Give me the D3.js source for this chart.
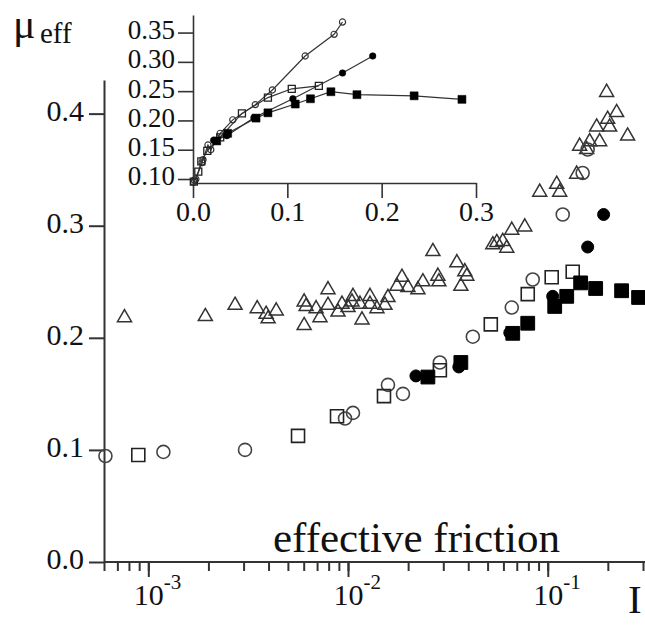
<!DOCTYPE html>
<html>
<head>
<meta charset="utf-8">
<script src="https://cdn.jsdelivr.net/npm/d3@7"></script>
<style>
body { margin: 0; background: #fff; }
svg { display: block; font-family: "Liberation Serif", "Times New Roman", serif; }
.axis path, .axis line { stroke: #333; stroke-width: 2; fill: none; }
.axis text { fill: #111; font-family: "Liberation Serif", "Times New Roman", serif; }
</style>
</head>
<body>
<div id="vis"></div>
<script>
// values: [I, mu_eff]
var triangles = [
    [0.00076, 0.218], [0.00193, 0.219], [0.00272, 0.229], [0.00351, 0.226], [0.00389, 0.221],
    [0.00398, 0.217], [0.00437, 0.224], [0.00603, 0.232], [0.00617, 0.228], [0.00603, 0.211],
    [0.00692, 0.226], [0.00724, 0.218], [0.00794, 0.243], [0.00794, 0.229], [0.00891, 0.223],
    [0.00933, 0.230], [0.0100, 0.227], [0.01047, 0.232], [0.01059, 0.237], [0.01148, 0.230],
    [0.01175, 0.216], [0.01288, 0.237], [0.01288, 0.230], [0.01396, 0.226], [0.01531, 0.229],
    [0.01585, 0.236], [0.01758, 0.246], [0.01862, 0.254], [0.01995, 0.245], [0.02239, 0.243],
    [0.02371, 0.250], [0.02661, 0.277], [0.02818, 0.255], [0.02851, 0.250], [0.03508, 0.267],
    [0.03673, 0.246], [0.03846, 0.259], [0.03936, 0.255], [0.05309, 0.283], [0.05559, 0.285],
    [0.05957, 0.286], [0.06237, 0.280], [0.06607, 0.296], [0.07674, 0.299], [0.0912, 0.330],
    [0.1109, 0.337], [0.1148, 0.330], [0.1396, 0.346], [0.1445, 0.371], [0.1567, 0.368],
    [0.1622, 0.375], [0.1758, 0.388], [0.1820, 0.375], [0.1995, 0.395], [0.2042, 0.388],
    [0.2213, 0.401], [0.1972, 0.419], [0.2512, 0.380]
];
var openCircles = [
    [0.00061, 0.0946], [0.00119, 0.0982], [0.00305, 0.100], [0.00966, 0.128], [0.01059, 0.133],
    [0.01585, 0.158], [0.01884, 0.150], [0.02884, 0.178], [0.04217, 0.201], [0.06607, 0.227],
    [0.08414, 0.252], [0.1189, 0.310], [0.1496, 0.347], [0.1585, 0.368]
];
var openSquares = [
    [0.000891, 0.0955], [0.00562, 0.1125], [0.00881, 0.130], [0.01514, 0.148], [0.02884, 0.171],
    [0.05188, 0.212], [0.07943, 0.239], [0.1047, 0.254], [0.1334, 0.259]
];
var filledCircles = [
    [0.02188, 0.166], [0.03589, 0.174], [0.06457, 0.2045], [0.1059, 0.237], [0.1585, 0.281],
    [0.1905, 0.310]
];
var filledSquares = [
    [0.02512, 0.165], [0.03673, 0.178], [0.06683, 0.204], [0.07943, 0.213], [0.1084, 0.228],
    [0.1245, 0.237], [0.1462, 0.249], [0.1738, 0.244], [0.2344, 0.242], [0.2851, 0.236]
];

var yTicksMain = [0, 0.1, 0.2, 0.3, 0.4];
var xMajorTicks = [1e-3, 1e-2, 1e-1];
var xMajorExponents = ["-3", "-2", "-1"];
var insetXTicks = [0, 0.1, 0.2, 0.3];
var insetYTicks = [0.10, 0.15, 0.20, 0.25, 0.30, 0.35];

var width = 645;
var height = 625;

var svg = d3.select("#vis")
    .append("svg")
    .attr("width", width)
    .attr("height", height);

// main (log I) chart
var xScale = d3.scaleLog().domain([6e-4, 0.3]).range([104, 643]);
var yScale = d3.scaleLinear().domain([0, 0.43]).range([562, 80]);

var xMinor = svg.append("g")
    .attr("class", "axis")
    .attr("transform", "translate(0,562)")
    .call(d3.axisBottom(xScale).tickValues(xScale.ticks()).tickSize(9).tickSizeOuter(0).tickFormat(""));
xMinor.select("path").attr("d", "M104,0H645");

var xMajor = svg.append("g")
    .attr("class", "axis")
    .attr("transform", "translate(0,562)")
    .call(d3.axisBottom(xScale).tickValues(xMajorTicks).tickSize(15).tickSizeOuter(0).tickFormat(""));
xMajor.select("path").remove();

// 10^n labels with a raised exponent
xMajor.selectAll(".tick").each(function(d, i) {
    var t = d3.select(this).append("text")
        .attr("x", -15)
        .attr("y", 43)
        .attr("text-anchor", "start");
    t.append("tspan").style("font-size", "30px").text("10");
    t.append("tspan").style("font-size", "21px").attr("dy", -16).text(xMajorExponents[i]);
});

var yAxisMain = svg.append("g")
    .attr("class", "axis")
    .attr("transform", "translate(104,0)")
    .call(d3.axisLeft(yScale).tickValues(yTicksMain).tickSize(15).tickPadding(5)
        .tickSizeOuter(0).tickFormat(d3.format(".1f")));
yAxisMain.selectAll("text").style("font-size", "30px").attr("dy", "0.22em");

var mainG = svg.append("g");

var drawSymbols = function(g, data, sx, sy, type, size, filled, stroke, sw) {
    g.selectAll(null)
        .data(data)
        .enter().append("path")
        .attr("transform", function(d) { return "translate(" + sx(d[0]) + "," + sy(d[1]) + ")"; })
        .attr("d", d3.symbol().type(type).size(size))
        .attr("fill", filled ? "#000" : "none")
        .attr("stroke", stroke)
        .attr("stroke-width", sw);
};

drawSymbols(mainG, triangles, xScale, yScale, d3.symbolTriangle, 85, false, "#333", 1.5);
drawSymbols(mainG, openCircles, xScale, yScale, d3.symbolCircle, 133, false, "#444", 1.6);
drawSymbols(mainG, openSquares, xScale, yScale, d3.symbolSquare, 169, false, "#222", 1.6);
drawSymbols(mainG, filledCircles, xScale, yScale, d3.symbolCircle, 113, true, "#000", 1);
drawSymbols(mainG, filledSquares, xScale, yScale, d3.symbolSquare, 190, true, "#000", 1);

// inset (linear I) chart
var ix = d3.scaleLinear().domain([0, 0.3]).range([193, 476]);
var iy = d3.scaleLinear().domain([0.0932, 0.38]).range([183, 15]);

var insetX = svg.append("g")
    .attr("class", "axis")
    .attr("transform", "translate(0,183)")
    .call(d3.axisBottom(ix).tickValues(insetXTicks).tickSize(15).tickPadding(3)
        .tickSizeOuter(0).tickFormat(d3.format(".1f")));
insetX.selectAll("text").style("font-size", "28px");

var insetY = svg.append("g")
    .attr("class", "axis")
    .attr("transform", "translate(193,0)")
    .call(d3.axisLeft(iy).tickValues(insetYTicks).tickSize(15).tickPadding(3)
        .tickSizeOuter(0).tickFormat(d3.format(".2f")));
insetY.selectAll("text").style("font-size", "27px").attr("dy", "0.22em");
insetY.selectAll("path, line").style("stroke-width", 1.6);
insetX.selectAll("path, line").style("stroke-width", 1.6);

var insetG = svg.append("g");
var insetLine = d3.line()
    .x(function(d) { return ix(d[0]); })
    .y(function(d) { return iy(d[1]); });

[openCircles, openSquares, filledCircles, filledSquares].forEach(function(series) {
    var sorted = series.slice().sort(function(a, b) { return a[0] - b[0]; });
    insetG.append("path")
        .datum(sorted)
        .attr("fill", "none")
        .attr("stroke", "#333")
        .attr("stroke-width", 1.2)
        .attr("d", insetLine);
});

drawSymbols(insetG, openCircles, ix, iy, d3.symbolCircle, 30, false, "#333", 1.2);
drawSymbols(insetG, openSquares, ix, iy, d3.symbolSquare, 49, false, "#222", 1.3);
drawSymbols(insetG, filledCircles, ix, iy, d3.symbolCircle, 34, true, "#000", 0.5);
drawSymbols(insetG, filledSquares, ix, iy, d3.symbolSquare, 64, true, "#000", 0.5);

// labels
svg.append("text")
    .attr("x", 13).attr("y", 38)
    .attr("fill", "#111")
    .style("font-size", "42px")
    .text("\u03bc");
svg.append("text")
    .attr("x", 40).attr("y", 43)
    .attr("fill", "#111")
    .style("font-size", "29px")
    .text("eff");

svg.append("text")
    .attr("x", 273).attr("y", 552)
    .attr("fill", "#111")
    .style("font-size", "43px")
    .text("effective friction");

svg.append("text")
    .attr("x", 628).attr("y", 613)
    .attr("fill", "#111")
    .style("font-size", "41px")
    .text("I");
</script>
</body>
</html>
